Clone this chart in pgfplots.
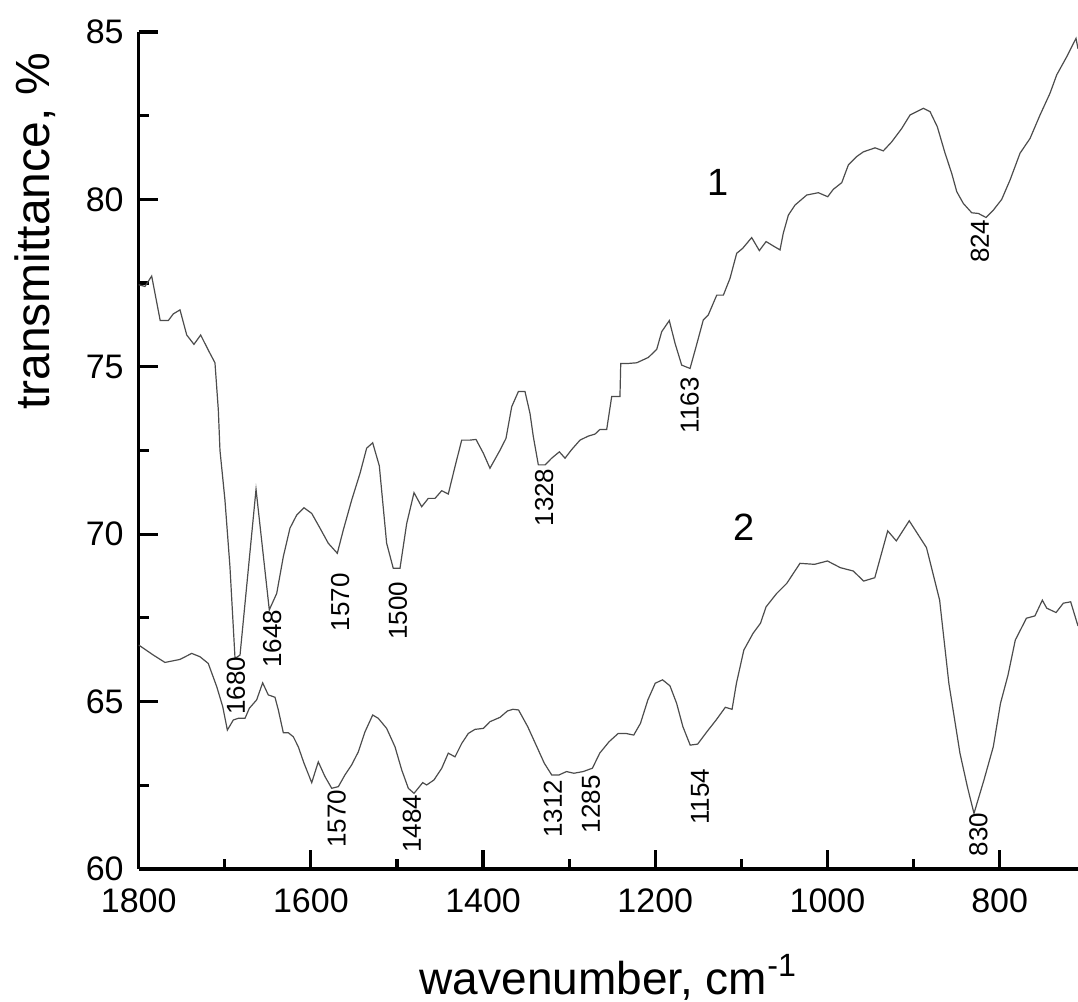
\documentclass[border=0pt]{standalone}
\usepackage{fontspec}
\setmainfont{Liberation Sans}
\usepackage{graphicx}
\usepackage{pgfplots}
\pgfplotsset{compat=1.18}

\pgfplotstableread{
w y
1800 77.45
1792.7 77.40
1784.9 77.71
1775 76.38
1765.6 76.38
1759.8 76.58
1752 76.70
1744.2 75.95
1735.8 75.67
1728 75.95
1719.2 75.50
1711.4 75.12
1707.5 73.71
1705.6 72.51
1699.8 71.02
1694 69.03
1688.1 66.29
1682.3 66.39
1663.7 71.34
1648.3 67.74
1639.7 68.23
1632 69.33
1624.3 70.18
1616.5 70.57
1608 70.79
1599 70.62
1589.4 70.18
1579.8 69.73
1569.3 69.43
1562.3 70.13
1552.6 71.02
1542.9 71.82
1535.2 72.57
1528.2 72.73
1520.5 72.04
1512 69.73
1504.3 68.98
1496.5 68.98
1488.7 70.32
1480.2 71.24
1471.3 70.82
1463.6 71.07
1455.8 71.07
1448 71.30
1440.4 71.20
1432.6 72.02
1424.8 72.81
1415.2 72.81
1408.2 72.83
1399.7 72.42
1392 71.97
1380.3 72.51
1373.4 72.86
1366.7 73.81
1359 74.26
1351.3 74.26
1345.5 73.61
1341.6 72.91
1335.8 72.07
1328 72.07
1320.3 72.27
1311.4 72.46
1304.8 72.27
1297 72.53
1287.4 72.81
1277.8 72.93
1270 72.99
1264.2 73.13
1256.4 73.13
1250.6 74.11
1241 74.11
1240.1 75.10
1231.3 75.10
1221.5 75.12
1208 75.28
1198.3 75.52
1192.5 76.05
1183.7 76.38
1177 75.70
1169.3 75.05
1159.6 74.95
1152.6 75.60
1144.2 76.40
1138.4 76.55
1128.6 77.14
1120.9 77.14
1113.2 77.64
1105.4 78.39
1098.4 78.54
1088 78.86
1079.1 78.47
1071.3 78.74
1062.9 78.61
1055.1 78.49
1051.3 78.99
1045.4 79.53
1037.7 79.83
1024.1 80.13
1010.6 80.20
999.7 80.08
993.2 80.30
983.4 80.50
975.7 81.03
966.0 81.28
958.3 81.42
944.7 81.54
935.1 81.45
925.3 81.72
913.7 82.12
904.1 82.52
888.6 82.72
880.8 82.62
872.4 82.17
863.4 81.38
855.7 80.78
849.8 80.23
842.2 79.88
832.4 79.60
824.7 79.58
815.8 79.46
807.3 79.68
797.6 80.00
787.9 80.58
776.3 81.38
764.7 81.82
753.1 82.52
741.5 83.17
733.7 83.72
722.1 84.26
711.3 84.81
709 84.5
}\curveone

\pgfplotstableread{
w y
1800 66.69
1783 66.39
1769.5 66.17
1752 66.26
1738.4 66.44
1728.8 66.34
1719.2 66.14
1709.4 65.45
1702.4 64.85
1697 64.15
1690.1 64.45
1684.3 64.50
1676.5 64.50
1671.5 64.80
1663 65.05
1656 65.56
1649.5 65.20
1641.7 65.13
1637.8 64.75
1632 64.07
1626.2 64.07
1620.4 63.95
1614.6 63.65
1608 63.16
1599 62.58
1591.4 63.20
1583.6 62.76
1575.8 62.41
1568.1 62.46
1560.4 62.81
1552.6 63.11
1544.9 63.50
1537.1 64.10
1528.2 64.60
1521.7 64.50
1512 64.20
1502.3 63.65
1494.5 62.96
1486.8 62.41
1480.2 62.26
1470.1 62.58
1465.5 62.51
1457 62.66
1448 63.01
1440.4 63.46
1432.6 63.35
1424.8 63.75
1417.1 64.05
1409.4 64.17
1399.7 64.20
1392 64.40
1380.3 64.53
1371.7 64.72
1365.3 64.77
1358.8 64.75
1348.1 64.25
1337.5 63.65
1328.9 63.16
1320.3 62.81
1311.7 62.81
1303.1 62.91
1294.5 62.86
1283.8 62.91
1273 63.01
1264.5 63.46
1253.7 63.80
1243 64.05
1234.4 64.05
1225 64.00
1217.2 64.35
1208.6 65.05
1200 65.55
1191.5 65.65
1182.9 65.47
1175.2 64.95
1167.9 64.25
1159.4 63.70
1150.8 63.73
1140 64.10
1129.3 64.45
1118.6 64.83
1110.8 64.77
1105.7 65.55
1097.1 66.54
1086.4 67.04
1077.8 67.34
1071.3 67.83
1059 68.23
1047.3 68.53
1031.9 69.13
1015 69.10
1000 69.20
985 69.00
970 68.90
958 68.60
945 68.70
930 70.10
920 69.80
905 70.40
885 69.60
869.7 68.03
859 65.55
846.1 63.46
837.5 62.46
829.8 61.66
818.2 62.66
807.4 63.65
799 64.95
790.3 65.79
781.8 66.84
768.9 67.49
759 67.56
750.4 68.03
745.3 67.79
734.5 67.66
726 67.94
717.5 67.98
709 67.26
}\curvetwo

\begin{document}
\begin{tikzpicture}
\begin{axis}[
  name=ax,
  scale only axis,
  width=469.65pt, height=418.5pt,
  x dir=reverse,
  xmin=709, xmax=1800,
  ymin=60, ymax=85,
  axis x line*=bottom,
  axis y line*=left,
  axis line style={line width=1.6pt},
  every tick/.style={line width=1.6pt, black},
  tick align=inside,
  major tick length=9.5pt,
  minor tick length=5pt,
  xtick={800,1000,1200,1400,1600,1800},
  minor xtick={700,900,1100,1300,1500,1700},
  ytick={60,65,70,75,80,85},
  minor ytick={62.5,67.5,72.5,77.5,82.5},
  /pgf/number format/assume math mode=true,
  /pgf/number format/1000 sep={},
  tick label style={font=\fontsize{17}{20}\selectfont},
  xticklabel style={yshift=-6.5pt},
  yticklabel style={xshift=-4pt},
  xlabel={wavenumber, cm\textsuperscript{-1}},
  ylabel={transmittance, \%},
  xlabel style={font=\fontsize{23}{27}\selectfont, at={(rel axis cs:0.5,0)}, anchor=base, yshift=-63pt},
  ylabel style={font=\fontsize{24}{28}\selectfont, at={(rel axis cs:0,0.762)}, anchor=base, yshift=44.35pt},
  clip=true,
]
\addplot[black!70, line width=0.6pt] table[x=w,y=y] {\curveone};
\addplot[black!70, line width=0.6pt] table[x=w,y=y] {\curvetwo};

\begin{scope}[every node/.style={font=\fontsize{13}{15}\selectfont, rotate=90, anchor=west, inner sep=0pt}]
\node at (axis cs:1687,64.6) {1680};
\node at (axis cs:1645,66.0) {1648};
\node at (axis cs:1566,67.09) {1570};
\node at (axis cs:1499,66.84) {1500};
\node at (axis cs:1329,70.22) {1328};
\node at (axis cs:1160,73.01) {1163};
\node at (axis cs:823,78.09) {824};
\node at (axis cs:1570,60.62) {1570};
\node at (axis cs:1482.5,60.47) {1484};
\node at (axis cs:1319,60.92) {1312};
\node at (axis cs:1274.6,61.06) {1285};
\node at (axis cs:1148,61.31) {1154};
\node at (axis cs:824.6,60.37) {830};
\end{scope}
\node[font=\fontsize{19}{22}\selectfont, inner sep=0pt] at (axis cs:1127,80.52) {1};
\node[font=\fontsize{19}{22}\selectfont, inner sep=0pt] at (axis cs:1097,70.21) {2};
\end{axis}
\pgfresetboundingbox
\path[use as bounding box] ([xshift=-69.35pt,yshift=-66.5pt]ax.south west) rectangle ([yshift=16pt]ax.north east);
\end{tikzpicture}
\end{document}
